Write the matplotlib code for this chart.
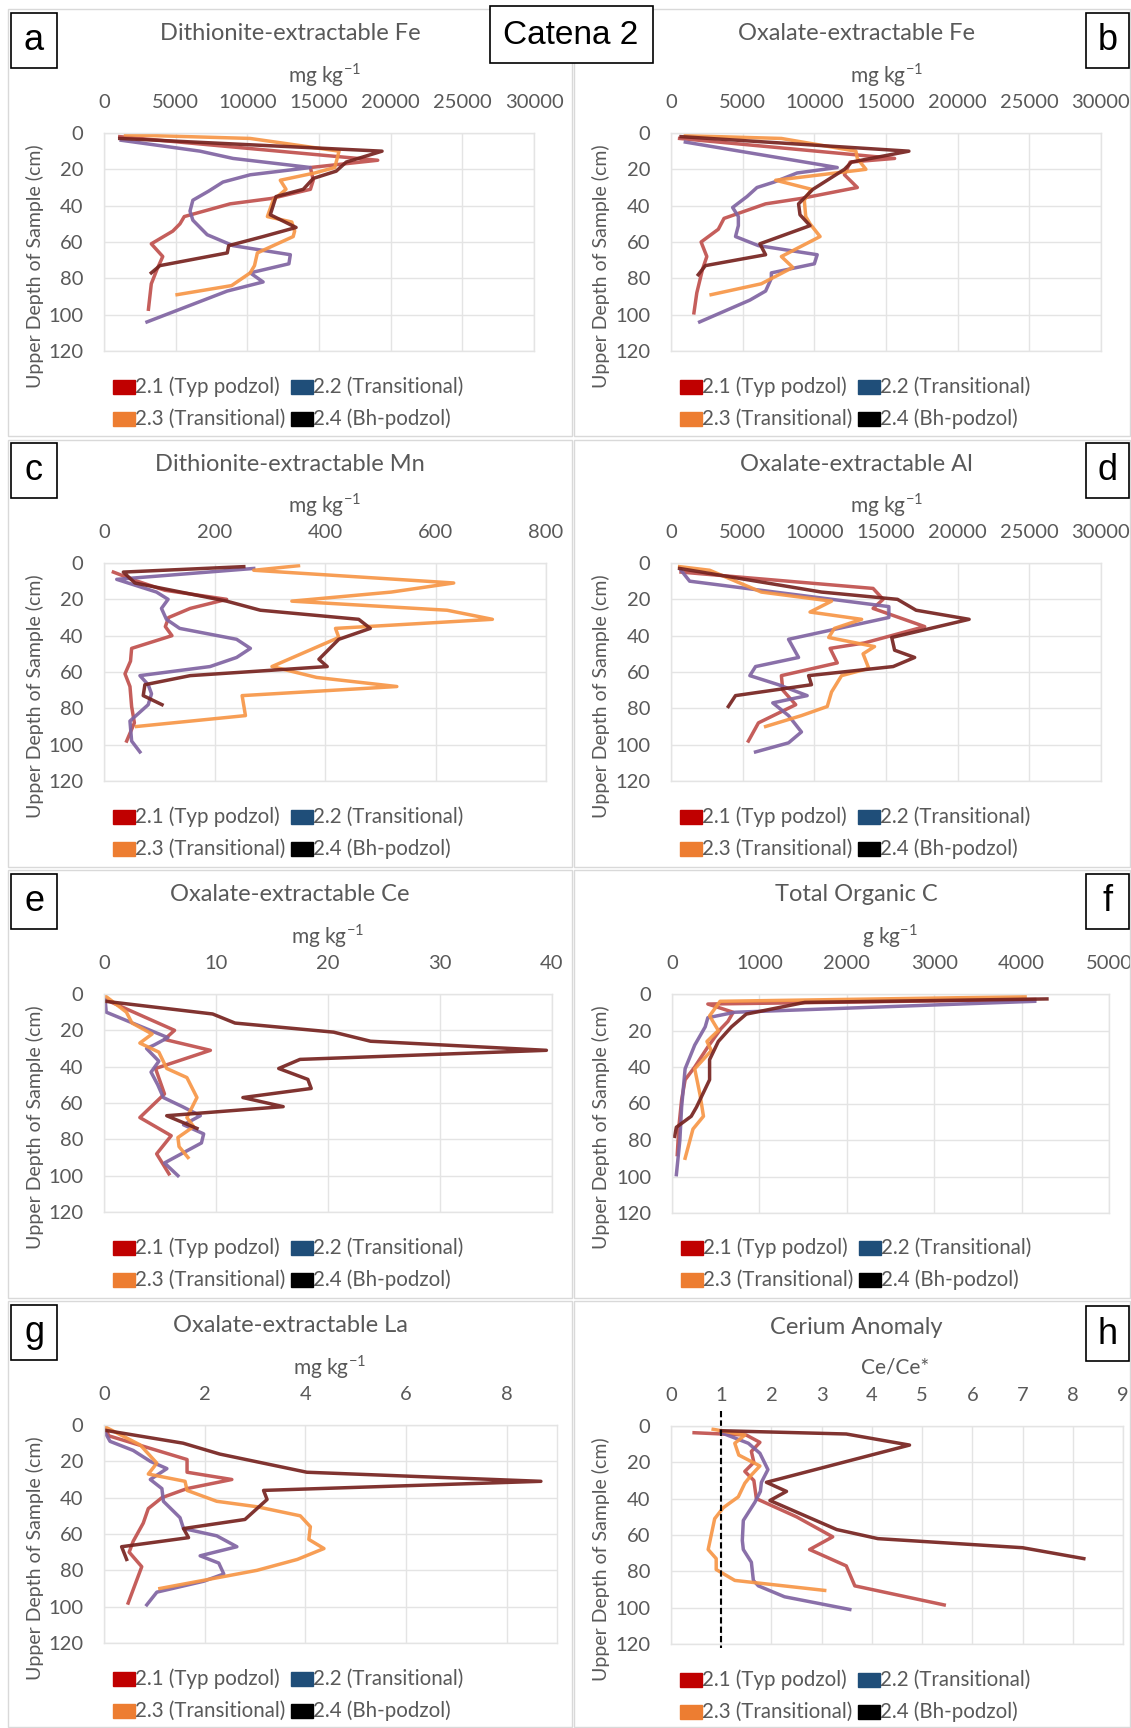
import matplotlib
matplotlib.use('Agg')
import matplotlib.pyplot as plt
from matplotlib.patches import Rectangle

plt.rcParams['font.family'] = ['Lato', 'DejaVu Sans']
plt.rcParams['mathtext.fontset'] = 'custom'
plt.rcParams['mathtext.rm'] = 'Lato'

W, H = 1131, 1728

series_names = ['2.1 (Typ podzol)', '2.2 (Transitional)', '2.3 (Transitional)', '2.4 (Bh-podzol)']
line_colors = ['#C0504D', '#8064A2', '#F79646', '#76231F']
legend_colors = ['#C00000', '#1F4E79', '#ED7D31', '#000000']

# a - dithionite Fe (mg/kg)
a_d1 = [2, 15, 19, 26, 31, 36, 39, 46, 50, 54, 61, 68, 75, 83, 97]
a_v1 = [1100, 19100, 14400, 14600, 14400, 11700, 8800, 5600, 5300, 4800, 3300, 4100, 3700, 3300, 3100]
a_d2 = [4, 10, 14, 19, 23, 27, 32, 37, 43, 48, 56, 62, 67, 72, 77, 82, 87, 104]
a_v2 = [1200, 6700, 9000, 14400, 10200, 8300, 7300, 6200, 6000, 6200, 7200, 9000, 13000, 12900, 10200, 11100, 8600, 3000]
a_d3 = [1, 3, 10, 19, 22, 26, 31, 37, 46, 49, 54, 57, 66, 73, 77, 84, 89]
a_v3 = [1500, 10200, 16400, 16100, 14700, 12300, 12700, 11800, 11400, 13100, 13300, 13200, 10700, 10500, 10200, 8900, 5100]
a_d4 = [3, 10, 16, 21, 25, 31, 35, 45, 52, 57, 62, 66, 73, 77]
a_v4 = [1100, 19400, 16900, 16200, 14600, 13900, 12000, 11600, 13400, 11100, 8700, 8600, 3900, 3300]

# b - oxalate Fe
b_d1 = [3, 14, 16, 23, 30, 36, 39, 47, 53, 60, 68, 75, 88, 99]
b_v1 = [600, 15600, 12500, 12100, 13000, 9100, 6600, 3700, 3300, 2100, 2500, 2200, 1800, 1600]
b_d2 = [5, 19, 22, 27, 30, 35, 41, 46, 51, 57, 62, 67, 72, 77, 80, 87, 92, 104]
b_v2 = [1000, 11600, 8800, 7200, 6000, 5300, 4300, 4700, 4700, 4500, 6100, 10200, 10000, 7000, 7000, 6600, 5500, 2000]
b_d3 = [1.5, 3, 10, 14, 20, 26, 31, 37, 46, 50, 57, 68, 74, 83, 89]
b_v3 = [1000, 7700, 12900, 13000, 13600, 7300, 9800, 9300, 9400, 9700, 10400, 7700, 8500, 6300, 2800]
b_d4 = [2, 10, 16, 20, 31, 39, 45, 51, 61, 67, 73, 78]
b_v4 = [700, 16600, 12600, 12100, 9900, 8900, 9000, 9700, 6200, 6600, 2400, 1900]

# c - dithionite Mn
c_d1 = [5, 10, 15, 20, 25, 30, 35, 40, 47, 54, 61, 68, 79, 88, 98]
c_v1 = [17, 60, 110, 222, 156, 117, 111, 123, 50, 48, 38, 47, 50, 55, 41]
c_d2 = [3, 9, 16, 20, 25, 31, 36, 42, 47, 52, 57, 62, 67, 72, 78, 87, 98, 104]
c_v2 = [271, 23, 95, 116, 104, 113, 137, 240, 265, 240, 192, 65, 80, 86, 80, 47, 50, 65]
c_d3 = [1.5, 4, 11, 16, 21, 26, 31, 36, 41, 57, 63, 68, 73, 84, 90]
c_v3 = [352, 271, 633, 520, 340, 621, 703, 419, 425, 304, 385, 530, 250, 256, 59]
c_d4 = [2, 5, 11, 21, 26, 31, 36, 42, 53, 57, 62, 67, 73, 78]
c_v4 = [253, 35, 56, 222, 283, 461, 482, 425, 389, 404, 156, 74, 71, 105]

# d - oxalate Al
d_d1 = [5, 14, 20, 25, 35, 44, 47, 55, 62, 70, 78, 88, 98]
d_v1 = [700, 14100, 14800, 14100, 17700, 13500, 11100, 11600, 7700, 7800, 8700, 6100, 5400]
d_d2 = [4, 10, 24, 30, 42, 52, 57, 62, 67, 73, 77, 84, 93, 99, 104]
d_v2 = [700, 1300, 15200, 15200, 8200, 8900, 5900, 5500, 7500, 9500, 7100, 8200, 9100, 8200, 5900]
d_d3 = [2, 4, 16, 21, 27, 31, 36, 41, 46, 50, 58, 62, 71, 79, 84, 90]
d_v3 = [600, 2700, 6300, 11200, 9700, 13300, 11400, 11000, 14200, 13400, 13800, 11900, 11200, 10900, 9100, 6600]
d_d4 = [3, 16, 20, 26, 31, 41, 48, 52, 57, 62, 67, 73, 79]
d_v4 = [600, 10500, 15800, 17100, 20800, 15400, 15600, 17000, 15500, 9600, 9800, 4500, 4000]

# e - oxalate Ce
e_d1 = [3, 20, 25, 31, 41, 55, 68, 78, 88, 99]
e_v1 = [0.1, 6.3, 5.4, 9.5, 4.6, 5.4, 3.2, 6.0, 4.7, 5.8]
e_d2 = [3, 10, 24, 28, 30, 37, 43, 50, 57, 62, 67, 72, 77, 82, 93, 100]
e_v2 = [0.1, 0.2, 5.7, 4.5, 3.8, 4.9, 4.2, 4.8, 5.3, 7.0, 8.6, 7.1, 8.9, 8.7, 5.4, 6.6]
e_d3 = [1, 10, 16, 22, 27, 32, 41, 46, 57, 68, 73, 79, 84, 90]
e_v3 = [0.1, 2.0, 2.5, 4.3, 3.2, 4.9, 5.6, 7.4, 8.3, 7.4, 8.0, 6.6, 6.7, 7.5]
e_d4 = [4, 11, 16, 21, 26, 31, 36, 41, 47, 52, 57, 62, 67, 74]
e_v4 = [0.1, 9.7, 11.7, 20.5, 23.8, 39.5, 17.5, 15.6, 18.2, 18.5, 12.4, 16.0, 5.6, 8.3]

# f - total organic C (g/kg)
f_d1 = [3, 5.5, 10, 15, 19, 29, 40, 47, 58, 72, 88]
f_v1 = [4150, 410, 700, 640, 560, 410, 260, 150, 110, 80, 60]
f_d2 = [4, 10, 13, 18, 28, 41, 62, 80, 99]
f_v2 = [4150, 720, 410, 380, 260, 150, 110, 90, 50]
f_d3 = [1.5, 4, 12, 20, 26, 31, 41, 55, 67, 74, 90]
f_v3 = [4040, 550, 430, 530, 400, 450, 260, 320, 360, 240, 150]
f_d4 = [2.7, 4.6, 11, 18, 26, 36, 47, 62, 67, 73, 78]
f_v4 = [4290, 1520, 850, 680, 530, 430, 430, 280, 220, 50, 30]

# g - oxalate La
g_d1 = [2, 6, 19, 26, 30, 35, 40, 46, 54, 64, 70, 78, 98]
g_v1 = [0.02, 0.1, 1.65, 1.65, 2.54, 1.65, 1.15, 0.88, 0.78, 0.58, 0.5, 0.75, 0.48]
g_d2 = [4, 9, 14, 20, 24, 30, 35, 42, 51, 57, 61, 67, 72, 76, 82, 86, 92, 99]
g_v2 = [0.02, 0.12, 0.58, 0.92, 1.25, 0.92, 1.15, 1.18, 1.51, 1.58, 2.24, 2.64, 1.91, 2.28, 2.38, 1.98, 1.05, 0.85]
g_d3 = [1, 11, 21, 27, 31, 36, 42, 45, 50, 56, 63, 68, 74, 80, 90]
g_v3 = [0.02, 0.72, 1.05, 0.88, 1.61, 1.65, 2.24, 3.04, 3.9, 4.1, 4.07, 4.37, 3.84, 3.04, 1.11]
g_d4 = [3, 10, 16, 26, 31, 36, 41, 47, 52, 57, 62, 67, 74]
g_v4 = [0.04, 1.57, 2.3, 4.03, 8.68, 3.17, 3.24, 3.0, 2.8, 1.58, 1.68, 0.35, 0.45]

# h - cerium anomaly
h_d1 = [3.7, 5, 9, 14, 20, 25, 30, 40, 50, 61, 68, 77, 88, 98.5]
h_v1 = [0.46, 1.5, 1.77, 1.6, 1.65, 1.47, 1.65, 1.7, 2.5, 3.22, 2.76, 3.49, 3.66, 5.44]
h_d2 = [3.7, 9.5, 15, 24, 31, 36, 42, 52, 63, 68, 75, 85, 88, 94, 101]
h_v2 = [1.0, 1.54, 1.77, 1.93, 1.8, 1.78, 1.67, 1.44, 1.42, 1.44, 1.6, 1.64, 1.74, 2.26, 3.56]
h_d3 = [1.8, 5, 9.5, 16, 22, 27, 31.5, 39, 45, 51, 68, 73, 79, 85, 90.5]
h_v3 = [0.84, 1.47, 1.27, 1.35, 1.77, 1.6, 1.47, 1.34, 1.04, 0.87, 0.74, 0.9, 0.9, 1.27, 3.06]
h_d4 = [2.6, 4.4, 10.5, 31, 36, 41, 57, 62, 67, 73]
h_v4 = [1.0, 3.49, 4.75, 1.9, 2.3, 1.97, 3.3, 4.12, 7.0, 8.22]

depth_ticks = [0, 20, 40, 60, 80, 100, 120]

unit_mg = 'mg kg$^{-1}$'
panels = [
    # letter, title, unit, unit x centre, xmax, xticks, plot box in px (x0, y0, x1, y1), data
    ('a', 'Dithionite-extractable Fe', unit_mg, 325, 30000, list(range(0, 30001, 5000)),
     (104, 133, 534, 351), [(a_d1, a_v1), (a_d2, a_v2), (a_d3, a_v3), (a_d4, a_v4)]),
    ('b', 'Oxalate-extractable Fe', unit_mg, 887, 30000, list(range(0, 30001, 5000)),
     (671, 133, 1101, 351), [(b_d1, b_v1), (b_d2, b_v2), (b_d3, b_v3), (b_d4, b_v4)]),
    ('c', 'Dithionite-extractable Mn', unit_mg, 325, 800, [0, 200, 400, 600, 800],
     (104, 563, 546, 781), [(c_d1, c_v1), (c_d2, c_v2), (c_d3, c_v3), (c_d4, c_v4)]),
    ('d', 'Oxalate-extractable Al', unit_mg, 887, 30000, list(range(0, 30001, 5000)),
     (671, 563, 1101, 781), [(d_d1, d_v1), (d_d2, d_v2), (d_d3, d_v3), (d_d4, d_v4)]),
    ('e', 'Oxalate-extractable Ce', unit_mg, 328, 40, [0, 10, 20, 30, 40],
     (104, 994, 552, 1212), [(e_d1, e_v1), (e_d2, e_v2), (e_d3, e_v3), (e_d4, e_v4)]),
    ('f', 'Total Organic C', 'g kg$^{-1}$', 890, 5000, [0, 1000, 2000, 3000, 4000, 5000],
     (672, 994, 1109, 1213), [(f_d1, f_v1), (f_d2, f_v2), (f_d3, f_v3), (f_d4, f_v4)]),
    ('g', 'Oxalate-extractable La', unit_mg, 330, 9, [0, 2, 4, 6, 8],
     (104, 1425, 557, 1643), [(g_d1, g_v1), (g_d2, g_v2), (g_d3, g_v3), (g_d4, g_v4)]),
    ('h', 'Cerium Anomaly', 'Ce/Ce*', 895, 9, list(range(0, 10)),
     (671, 1426, 1123, 1644), [(h_d1, h_v1), (h_d2, h_v2), (h_d3, h_v3), (h_d4, h_v4)]),
]

fig = plt.figure(figsize=(W / 100, H / 100), dpi=100)

def fx(x):
    return x / W

def fy(y):
    return 1 - y / H

# gray chart frames
col_x = [(8, 572), (574, 1130)]
row_y = [(9, 436), (440, 867), (870, 1298), (1301, 1727)]
for ci, (xa, xb) in enumerate(col_x):
    for ri, (ya, yb) in enumerate(row_y):
        fig.patches.append(Rectangle((fx(xa), fy(yb)), (xb - xa) / W, (yb - ya) / H,
                                     transform=fig.transFigure, fill=False,
                                     edgecolor='#D9D9D9', lw=1.0))

text_gray = '#595959'
grid_gray = '#E4E4E4'

for i, (letter, title, unit, ucx, xmax, xticks, box, data) in enumerate(panels):
    x0, y0, x1, y1 = box
    right = i % 2 == 1
    ax = fig.add_axes([fx(x0), fy(y1), (x1 - x0) / W, (y1 - y0) / H])
    for (dep, val), c in zip(data, line_colors):
        ax.plot(val, dep, color=c, lw=2.5, alpha=0.92, solid_joinstyle='round')
    if letter == 'h':
        ax.plot([1, 1], [-8, 122], color='black', lw=1.5, ls=(0, (3, 1.5)), clip_on=False)
    ax.set_xlim(0, xmax)
    ax.set_ylim(120, 0)
    ax.set_xticks(xticks)
    ax.set_xticklabels([str(t) for t in xticks])
    ax.set_yticks(depth_ticks)
    ax.xaxis.tick_top()
    ax.tick_params(length=0, labelsize=14.5, labelcolor=text_gray)
    ax.tick_params(axis='x', pad=16)
    ax.tick_params(axis='y', pad=15)
    ax.grid(True, color=grid_gray, lw=1.0)
    ax.set_axisbelow(True)
    for s in ax.spines.values():
        s.set_color(grid_gray)
        s.set_linewidth(1.0)

    cx = 290 if not right else 856
    fig.text(fx(cx), fy(y0 - 99), title, ha='center', va='center', fontsize=17, color=text_gray)
    fig.text(fx(ucx), fy(y0 - 58), unit, ha='center', va='center',
             fontsize=15, color=text_gray)
    ylx = 35 if not right else 601
    fig.text(fx(ylx), fy(y0 + 133), 'Upper Depth of Sample (cm)', rotation=90,
             ha='center', va='center', fontsize=14, color=text_gray)

    # legend
    for k, (name, lc) in enumerate(zip(series_names, legend_colors)):
        lx = x0 + 9 + (k % 2) * 178
        ly = y0 + 254 + (k // 2) * 32
        fig.patches.append(Rectangle((fx(lx), fy(ly + 7)), 22 / W, 14 / H,
                                     transform=fig.transFigure, color=lc))
        fig.text(fx(lx + 22), fy(ly), name, ha='left', va='center', fontsize=14.8, color=text_gray)

    # panel letter box
    bx0 = 11 if not right else 1086
    bx1 = 57 if not right else 1129
    by0 = y0 - 120
    fig.patches.append(Rectangle((fx(bx0), fy(by0 + 55)), (bx1 - bx0) / W, 55 / H,
                                 transform=fig.transFigure, facecolor='white',
                                 edgecolor='black', lw=1.2))
    fig.text(fx((bx0 + bx1) / 2), fy(by0 + 28), letter, ha='center', va='center',
             fontsize=26, family='Liberation Sans')

# Catena label
fig.patches.append(Rectangle((fx(490), fy(63)), 163 / W, 57 / H, transform=fig.transFigure,
                             facecolor='white', edgecolor='black', lw=1.2))
fig.text(fx(571), fy(35), 'Catena 2', ha='center', va='center', fontsize=24, family='Liberation Sans')

fig.savefig('out.png', dpi=100)
